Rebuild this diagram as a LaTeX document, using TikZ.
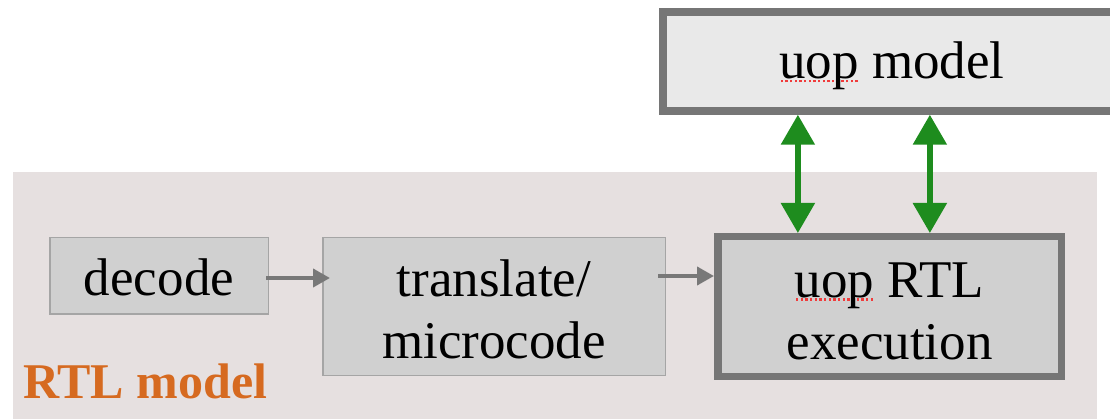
\documentclass[tikz,border=0pt]{standalone}
\usepackage{fontspec}
\setmainfont{Liberation Serif}
\usetikzlibrary{arrows.meta,calc}
\definecolor{panel}{RGB}{230,224,224}
\definecolor{boxfill}{RGB}{208,208,208}
\definecolor{topfill}{RGB}{233,233,233}
\definecolor{thinedge}{RGB}{165,165,165}
\definecolor{thickedge}{RGB}{118,118,118}
\definecolor{flow}{RGB}{120,120,120}
\definecolor{link}{RGB}{30,140,30}
\definecolor{rtlorange}{RGB}{214,106,32}
\definecolor{spellred}{RGB}{240,60,60}
% dotted red underline under a word
\newcommand\squig[1]{\setbox0\hbox{#1}\rlap{\raisebox{-3.5pt}{\color{spellred}\hbox to \wd0{\xleaders\hbox to 4.5pt{\hss\rule{2.5pt}{2.5pt}\hss}\hfill}}}\box0\relax}
% invisible strut that lowers the text inside a block
\newcommand\textdrop[1]{\rule{0pt}{#1}}
\begin{document}
\begin{tikzpicture}[x=1pt,y=-1pt,
  lbl/.style={font=\fontsize{53}{62}\selectfont, align=center},
  thinbox/.style={lbl, draw=thinedge, line width=1.5pt, fill=boxfill, inner sep=0pt},
  thickbox/.style={lbl, draw=thickedge, line width=7.5pt, inner sep=0pt},
  flowarrow/.style={draw=flow, line width=4pt, -{Triangle[width=18pt,length=17pt]}},
  linkarrow/.style={draw=link, line width=5.5pt,
    {Triangle[width=33pt,length=30pt]}-{Triangle[width=33pt,length=30pt]}}
]
\useasboundingbox (0,0) rectangle (1110,419);
\begin{scope}
\clip (0,0) rectangle (1110,419);
% RTL panel
\fill[panel] (13,172) rectangle (1097,430);
\node[anchor=base west, font=\fontsize{50}{60}\selectfont\bfseries, text=rtlorange, inner sep=0pt]
  (rtllabel) at (23,398) {RTL model};
% blocks
\node[thickbox, fill=topfill, minimum width=458pt, minimum height=99pt]
  (uopmodel) at (892,61.5) {\textdrop{46pt}\squig{uop} model};
\node[thinbox, minimum width=218.5pt, minimum height=76.5pt]
  (decode) at (159,276) {\textdrop{40pt}decode};
\node[thinbox, minimum width=342.5pt, minimum height=137.5pt]
  (translate) at (494,306.5) {\textdrop{42pt}translate/\\microcode};
\node[thickbox, fill=boxfill, minimum width=343.5pt, minimum height=139.5pt]
  (rtl) at (889.5,306.5) {\textdrop{44pt}\squig{uop} RTL\\execution};
% pipeline arrows
\draw[flowarrow] ([xshift=-3pt,yshift=-2pt]decode.east) -- ([xshift=8pt,yshift=-2pt]decode.east -| translate.west);
\draw[flowarrow] ([xshift=-8pt]translate.east |- decode.east) -- (rtl.west |- decode.east);
% links between the uop model and the RTL execution block
\coordinate (p1) at ($(rtl.north west)!0.239!(rtl.north east)$);
\coordinate (p2) at ($(rtl.north west)!0.615!(rtl.north east)$);
\draw[linkarrow] (p1 |- uopmodel.south) -- (p1);
\draw[linkarrow] (p2 |- uopmodel.south) -- (p2);
\end{scope}
\end{tikzpicture}
\end{document}
